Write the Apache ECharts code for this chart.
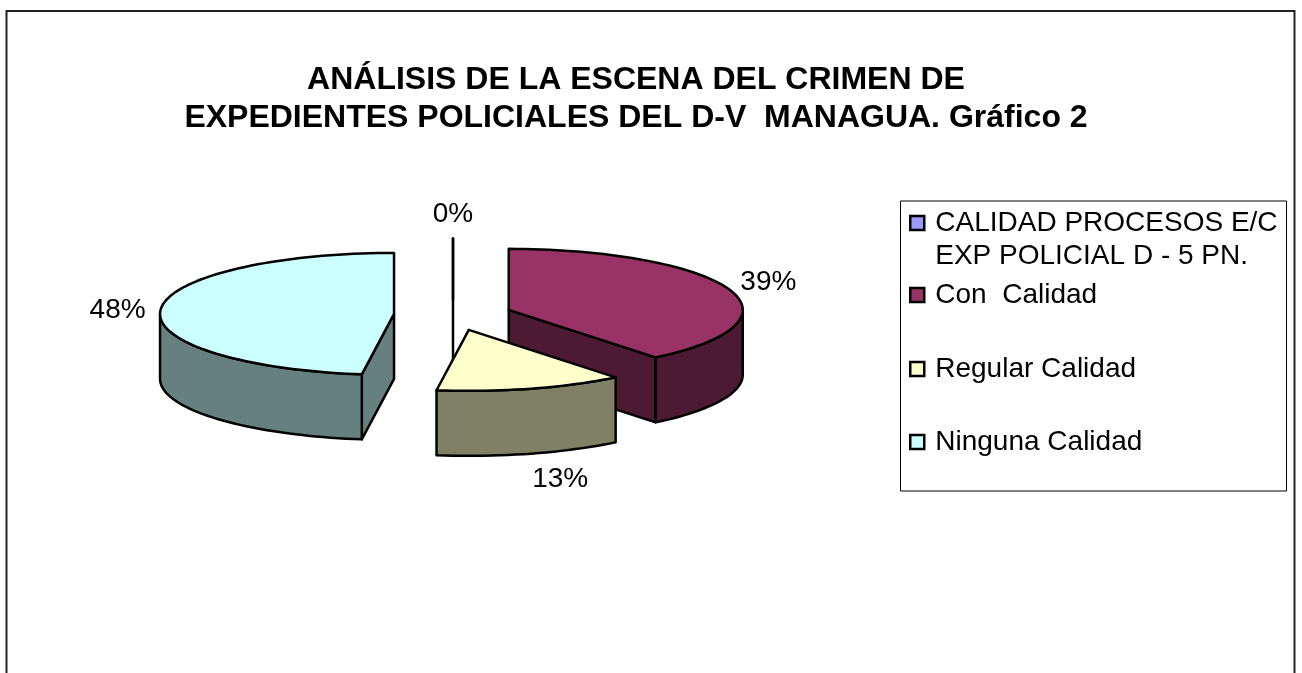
<!DOCTYPE html>
<html>
<head>
<meta charset="utf-8">
<style>html,body{margin:0;padding:0;background:#fff}#c{width:1302px;height:673px}</style>
<script src="https://cdn.jsdelivr.net/npm/echarts@6/dist/echarts.min.js"></script>
</head>
<body>
<div id="c"></div>
<script>
// ---- data ----
const categories = ['CALIDAD PROCESOS E/C EXP POLICIAL D - 5 PN.', 'Con  Calidad', 'Regular Calidad', 'Ninguna Calidad'];
const values = [0, 39.2, 13.0, 47.8];
const titleLines = ['ANÁLISIS DE LA ESCENA DEL CRIMEN DE', 'EXPEDIENTES POLICIALES DEL D-V  MANAGUA. Gráfico 2'];

// ---- style ----
const topColors = ['#9999FF', '#993366', '#FFFFCC', '#CCFFFF'];
const sideColors = ['#4D4D80', '#4D1A33', '#808066', '#668080'];
const FONT = '"Liberation Sans", Arial, sans-serif';
const CX = 453, CY = 315, RX = 234, RY = 61, DEPTH = 65, EXPLODE = 59.1;
const labelNudges = [[0, -24], [39, -7], [29, 26], [-43, 1]];
const legendCenters = [223, 295, 369, 442];
const LEGEND_LINE = 33;

const total = values.reduce((a, b) => a + b, 0);
const deg = Math.PI / 180;
let acc = 0;
const slices = values.map(v => { const s = { a0: acc / total * 360, a1: (acc + v) / total * 360 }; acc += v; return s; });

function rim(c, a) { return [c[0] + RX * Math.sin(a * deg), c[1] - RY * Math.cos(a * deg)]; }
function arc(c, a0, a1) {
  const n = Math.max(1, Math.ceil(Math.abs(a1 - a0) / 2)), p = [];
  for (let i = 0; i <= n; i++) p.push(rim(c, a0 + (a1 - a0) * i / n));
  return p;
}
const down = p => [p[0], p[1] + DEPTH];
const poly = (points, fill, z2) => ({
  type: 'polygon', z2, shape: { points },
  style: { fill, stroke: '#000', lineWidth: 2.5, lineJoin: 'round' }
});

function renderSlice(i) {
  return function () {
    const s = slices[i], mid = (s.a0 + s.a1) / 2;
    const c = [CX + EXPLODE * Math.sin(mid * deg), CY - EXPLODE * RY / RX * Math.cos(mid * deg)];
    const children = [];
    // cut faces
    const face = a => {
      const r = rim(c, a);
      return poly([c, r, down(r), down(c)], sideColors[i], 1);
    };
    if (values[i] === 0) children.push(face(s.a0));
    else {
      if (Math.sin(s.a0 * deg) < -1e-6) children.push(face(s.a0));
      if (Math.sin(s.a1 * deg) > 1e-6) children.push(face(s.a1));
    }
    // outer wall (front half only)
    const w0 = Math.max(s.a0, 90), w1 = Math.min(s.a1, 270);
    if (w1 > w0) {
      const t = arc(c, w0, w1);
      children.push(poly(t.concat(t.slice().reverse().map(down)), sideColors[i], 2));
    }
    // top surface
    children.push(poly([c].concat(arc(c, s.a0, s.a1)), topColors[i], 3));
    // percentage label
    const m = rim(c, mid);
    const front = mid > 90 && mid < 270;
    children.push({
      type: 'text', z2: 5,
      style: {
        x: m[0] + labelNudges[i][0], y: m[1] + (front ? DEPTH : 0) + labelNudges[i][1],
        text: Math.round(values[i] / total * 100) + '%',
        font: '28px ' + FONT, fill: '#000', align: 'center', verticalAlign: 'middle'
      }
    });
    return { type: 'group', children };
  };
}

const option = {
  animation: false,
  backgroundColor: '#fff',
  title: {
    text: titleLines.join('\n'),
    left: 631, top: 56, textAlign: 'center',
    textStyle: { fontFamily: FONT, fontWeight: 'bold', fontSize: 32, lineHeight: 38, color: '#000' }
  },
  legend: categories.map((name, i) => ({
    data: [name], orient: 'vertical', left: 909,
    top: legendCenters[i] - (i === 0 ? 1.5 : 0.5) * LEGEND_LINE,
    padding: 0, itemWidth: 14, itemHeight: 14, selectedMode: false, icon: 'rect',
    itemStyle: { borderColor: '#000', borderWidth: 2.5 },
    textStyle: { fontFamily: FONT, fontSize: 28, lineHeight: LEGEND_LINE, color: '#000', padding: [0, 0, 0, 6] },
    formatter: n => n === categories[0] ? '\nCALIDAD PROCESOS E/C\nEXP POLICIAL D - 5 PN.' : n
  })),
  graphic: [
    { type: 'rect', silent: true, z: -1, shape: { x: 6.5, y: 11, width: 1288, height: 700 },
      style: { fill: 'none', stroke: '#222', lineWidth: 2 } },
    { type: 'rect', silent: true, z: -1, shape: { x: 900.5, y: 201, width: 386, height: 290 },
      style: { fill: '#fff', stroke: '#000', lineWidth: 1 } }
  ],
  series: categories.map((name, i) => ({
    type: 'custom', name, coordinateSystem: 'none', silent: true,
    itemStyle: { color: topColors[i] },
    data: [values[i]],
    renderItem: renderSlice(i)
  }))
};
const chart = echarts.init(document.getElementById('c'), null, { renderer: 'canvas' });
chart.setOption(option);
</script>
</body>
</html>
